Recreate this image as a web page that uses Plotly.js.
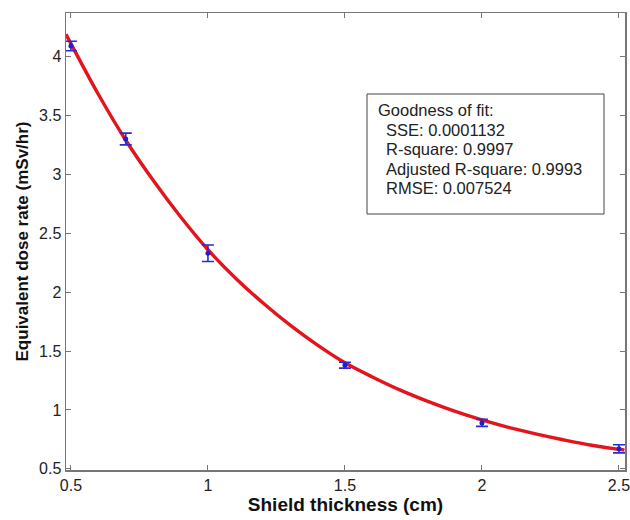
<!DOCTYPE html>
<html><head><meta charset="utf-8">
<script src="https://cdn.plot.ly/plotly-3.0.1.min.js"></script>
<style>html,body{margin:0;padding:0;background:#fff}#chart{width:630px;height:520px}</style>
</head><body><div id="chart"></div>
<script>
// Measured data points with error bars
const thickness = [0.5, 0.7, 1.0, 1.5, 2.0, 2.5];
const doseRate = [4.09, 3.30, 2.33, 1.38, 0.89, 0.67];
const doseErr = [0.04, 0.05, 0.07, 0.025, 0.03, 0.035];
// Fitted curve
const fitX = [0.482, 0.5, 0.6, 0.7, 0.8, 0.9, 1.0, 1.1, 1.2, 1.3, 1.4, 1.5, 1.6, 1.7, 1.8, 1.9, 2.0, 2.1, 2.2, 2.3, 2.4, 2.5, 2.52];
const fitY = [4.19, 4.11, 3.68, 3.29, 2.95, 2.64, 2.36, 2.12, 1.91, 1.72, 1.55, 1.40, 1.28, 1.17, 1.075, 0.99, 0.915, 0.85, 0.795, 0.745, 0.70, 0.665, 0.66];
// Axis ticks
const xTicks = [0.5, 1, 1.5, 2, 2.5];
const xTickText = ['0.5', '1', '1.5', '2', '2.5'];
const yTicks = [0.5, 1, 1.5, 2, 2.5, 3, 3.5, 4];
const yTickText = ['0.5', '1', '1.5', '2', '2.5', '3', '3.5', '4'];
// Goodness of fit text
const gofTitle = 'Goodness of fit:';
const gofLines = ['SSE: 0.0001132', 'R-square: 0.9997', 'Adjusted R-square: 0.9993', 'RMSE: 0.007524'];

const plotW = 559, plotH = 457;
const px = v => v / plotW, py = v => v / plotH;
const FONT = 'Liberation Sans, Arial, sans-serif';

const traces = [
  {x: fitX, y: fitY, mode: 'lines', line: {color: '#e3141c', width: 3.4, shape: 'spline', smoothing: 1}, hoverinfo: 'skip'},
  {x: thickness, y: doseRate, mode: 'markers',
   marker: {color: '#2020c8', size: 5},
   error_y: {type: 'data', array: doseErr, visible: true, color: '#2a2ad8', thickness: 1.6, width: 6}}
];

const annotations = [
  {xref: 'paper', yref: 'paper', x: px(376 - 66), y: py(470 - 110), xanchor: 'left', yanchor: 'middle',
   text: gofTitle, showarrow: false, font: {family: FONT, size: 16.5, color: '#222'}}
];
gofLines.forEach((t, i) => annotations.push({
  xref: 'paper', yref: 'paper', x: px(384 - 66), y: py(470 - (129.5 + i * 19.5)), xanchor: 'left', yanchor: 'middle',
  text: t, showarrow: false, font: {family: FONT, size: 16.5, color: '#222'}
}));

const layout = {
  width: 630, height: 520,
  margin: {l: 66, r: 5, t: 13, b: 50},
  paper_bgcolor: '#fff', plot_bgcolor: '#fff',
  showlegend: false,
  font: {family: FONT, size: 16, color: '#222'},
  xaxis: {
    range: [0.482, 2.522], tickvals: xTicks, ticktext: xTickText,
    ticks: 'inside', ticklen: 5, tickcolor: '#777', mirror: 'ticks',
    showline: true, linecolor: '#777', linewidth: 1.5, showgrid: false, zeroline: false,
    ticklabeloverflow: 'allow',
    tickfont: {size: 16, color: '#222'},
    title: {text: 'Shield thickness (cm)', font: {size: 19, color: '#111', weight: 'bold'}, standoff: 4}
  },
  yaxis: {
    range: [0.49, 4.37], tickvals: yTicks, ticktext: yTickText,
    ticks: 'inside', ticklen: 5, tickcolor: '#777', mirror: 'ticks',
    showline: true, linecolor: '#777', linewidth: 1.5, showgrid: false, zeroline: false,
    tickfont: {size: 16, color: '#222'},
    title: {text: 'Equivalent dose rate (mSv/hr)', font: {size: 17, color: '#111', weight: 'bold'}, standoff: 6}
  },
  shapes: [
    {type: 'rect', xref: 'paper', yref: 'paper', x0: px(367 - 66), x1: px(604 - 66), y0: py(470 - 214), y1: py(470 - 94),
     line: {color: '#444', width: 1}, fillcolor: 'rgba(255,255,255,0)'}
  ],
  annotations: annotations
};

Plotly.newPlot('chart', traces, layout, {displayModeBar: false, staticPlot: true});
</script>
</body></html>
